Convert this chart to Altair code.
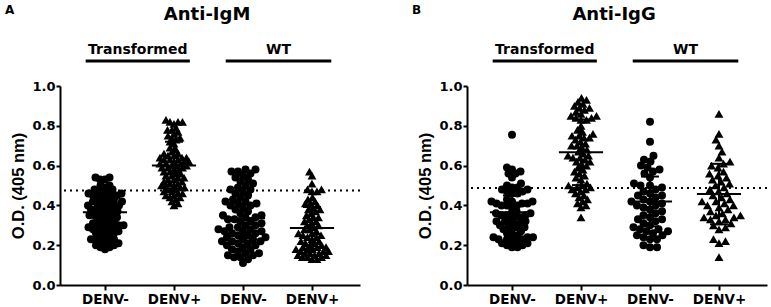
import altair as alt
import pandas as pd

FONT = "DejaVu Sans"
TITLE_FONT = "Liberation Sans"

CATEGORIES = ["DENV-", "DENV+", "DENV-", "DENV+"]
GROUP_LABELS = ["Transformed", "WT"]
GROUP_SPANS = [(-0.28, 1.23), (1.75, 3.28)]
PANEL_TITLES = ["Anti-IgM", "Anti-IgG"]
PANEL_LETTERS = ["A", "B"]
Y_TICKS = [0.0, 0.2, 0.4, 0.6, 0.8, 1.0]

# Panel A (Anti-IgM)
A_T_NEG = [0.54, 0.54, 0.53, 0.53, 0.50, 0.50, 0.49, 0.48, 0.48,
           0.47, 0.47, 0.46, 0.46, 0.46, 0.45, 0.45, 0.45,
           0.44, 0.44, 0.43, 0.43, 0.42, 0.42, 0.42, 0.41, 0.41, 0.40, 0.40, 0.40,
           0.39, 0.39, 0.38, 0.38, 0.38, 0.37, 0.37, 0.36, 0.36, 0.35, 0.35, 0.35,
           0.34, 0.34, 0.33, 0.33, 0.32, 0.32, 0.31, 0.31, 0.30, 0.30, 0.30, 0.30,
           0.29, 0.29, 0.28, 0.28, 0.28, 0.27, 0.27, 0.26, 0.26, 0.25, 0.25,
           0.24, 0.23, 0.23, 0.23, 0.22, 0.22, 0.21, 0.21, 0.20, 0.20, 0.19, 0.19, 0.18]
A_T_POS = [0.83, 0.82, 0.82, 0.82, 0.81, 0.79, 0.78, 0.78, 0.77,
           0.76, 0.75, 0.74, 0.74, 0.73, 0.72, 0.71,
           0.69, 0.68, 0.67, 0.66, 0.66, 0.65, 0.65, 0.64, 0.64, 0.64, 0.63, 0.63,
           0.63, 0.62, 0.62, 0.62, 0.61, 0.61, 0.61, 0.60, 0.60, 0.60, 0.59, 0.59,
           0.59, 0.58, 0.58, 0.57, 0.57, 0.56, 0.56, 0.55, 0.55, 0.54, 0.54, 0.53,
           0.53, 0.52, 0.52, 0.51, 0.51, 0.50, 0.50, 0.50, 0.49, 0.49, 0.48, 0.48,
           0.47, 0.47, 0.46, 0.46, 0.45, 0.45, 0.44, 0.44, 0.43, 0.42, 0.41, 0.40]
A_WT_NEG = [0.58, 0.58, 0.57, 0.57, 0.56, 0.55, 0.54, 0.53, 0.52, 0.51, 0.50,
            0.49, 0.48, 0.48, 0.47, 0.46, 0.45, 0.44, 0.43, 0.42, 0.42, 0.41,
            0.41, 0.40, 0.40, 0.39, 0.38, 0.37, 0.36, 0.35, 0.35, 0.34, 0.34,
            0.33, 0.33, 0.32, 0.32, 0.31, 0.30, 0.30, 0.29, 0.29, 0.28, 0.28,
            0.27, 0.27, 0.27, 0.26, 0.26, 0.25, 0.25, 0.24, 0.24, 0.23, 0.23,
            0.22, 0.22, 0.22, 0.21, 0.21, 0.20, 0.20, 0.19, 0.18, 0.18, 0.17,
            0.16, 0.16, 0.15, 0.15, 0.14, 0.14, 0.13, 0.11]
A_WT_POS = [0.57, 0.55, 0.51, 0.48, 0.48, 0.47, 0.47, 0.44, 0.43, 0.42, 0.41,
            0.41, 0.40, 0.39, 0.38, 0.38, 0.37, 0.36, 0.35, 0.34, 0.34, 0.33,
            0.32, 0.32, 0.31, 0.30, 0.30, 0.29, 0.28, 0.28, 0.27, 0.26, 0.26,
            0.25, 0.25, 0.24, 0.24, 0.23, 0.22, 0.22, 0.21, 0.21, 0.20, 0.20,
            0.19, 0.19, 0.19, 0.18, 0.18, 0.18, 0.17, 0.17, 0.17, 0.16, 0.16,
            0.16, 0.15, 0.15, 0.15, 0.14, 0.14, 0.14, 0.13, 0.13]
A_MEANS = [0.365, 0.60, 0.335, 0.287]
A_SDS = [0.085, 0.12, 0.12, 0.105]

# Panel B (Anti-IgG)
B_T_NEG = [0.755, 0.59, 0.58, 0.57, 0.56, 0.56, 0.54,
           0.51, 0.50, 0.49, 0.49, 0.48, 0.48, 0.47, 0.47, 0.46, 0.46,
           0.43, 0.42, 0.42, 0.42, 0.41, 0.41, 0.41, 0.40, 0.40, 0.40, 0.39,
           0.37, 0.36, 0.36, 0.36, 0.35, 0.35, 0.35, 0.34, 0.34,
           0.33, 0.32, 0.32, 0.32, 0.31, 0.31, 0.30, 0.30, 0.29, 0.29, 0.28, 0.28,
           0.27, 0.26, 0.25, 0.25, 0.24, 0.24, 0.24, 0.23, 0.23, 0.23, 0.22, 0.22,
           0.21, 0.21, 0.20, 0.20, 0.19, 0.19]
B_T_POS = [0.94, 0.93, 0.92, 0.91, 0.90, 0.89, 0.89, 0.88, 0.87, 0.86, 0.85,
           0.85, 0.84, 0.84, 0.83, 0.83, 0.80, 0.78, 0.77, 0.76, 0.75, 0.75,
           0.74, 0.74, 0.73, 0.72, 0.71, 0.70, 0.70, 0.69, 0.68, 0.67, 0.66,
           0.65, 0.65, 0.64, 0.64, 0.63, 0.62, 0.62, 0.61, 0.60, 0.59, 0.58,
           0.57, 0.56, 0.55, 0.54, 0.53, 0.51, 0.50, 0.50, 0.49, 0.49, 0.48,
           0.48, 0.47, 0.46, 0.45, 0.44, 0.43, 0.42, 0.41, 0.40, 0.39, 0.34]
B_WT_NEG = [0.82, 0.72, 0.65, 0.63, 0.62, 0.60, 0.59, 0.58, 0.57, 0.56, 0.54,
            0.51, 0.50, 0.50, 0.49, 0.48, 0.47, 0.46, 0.45, 0.45, 0.44, 0.43,
            0.42, 0.42, 0.41, 0.40, 0.40, 0.39, 0.38, 0.37, 0.36, 0.35, 0.34,
            0.33, 0.33, 0.32, 0.31, 0.30, 0.29, 0.28, 0.28, 0.27, 0.27, 0.26,
            0.25, 0.25, 0.24, 0.23, 0.23, 0.20, 0.19, 0.19]
B_WT_POS = [0.86, 0.76, 0.73, 0.70, 0.67, 0.64, 0.62, 0.61, 0.60, 0.59, 0.57,
            0.56, 0.55, 0.54, 0.53, 0.52, 0.51, 0.50, 0.49, 0.48, 0.47, 0.46,
            0.45, 0.44, 0.43, 0.42, 0.42, 0.41, 0.40, 0.40, 0.39, 0.38, 0.37,
            0.36, 0.35, 0.35, 0.34, 0.34, 0.33, 0.33, 0.32, 0.31, 0.30, 0.29,
            0.28, 0.23, 0.22, 0.21, 0.14]
B_MEANS = [0.365, 0.667, 0.42, 0.457]
B_SDS = [0.085, 0.165, 0.125, 0.152]

THRESHOLDS = [0.475, 0.487]
SHAPES = ["circle", "triangle-up", "circle", "triangle-up"]
SIZES = [64, 80, 64, 80]
# collision spacing (px) of the swarm layout per group
A_SPACING = [4.9, 4.4, 6.3, 4.7]
B_SPACING = [5.3, 5.3, 6.6, 6.6]

W, H = 300, 199
X_DOMAIN = [-0.652, 3.696]
STEP_PX = W / (X_DOMAIN[1] - X_DOMAIN[0])


def swarm_offsets(vals, d):
    """Simple beeswarm layout in pixel space; returns offsets in x-data units."""
    order = sorted(range(len(vals)), key=lambda i: vals[i])
    placed = []
    offs = [0.0] * len(vals)
    flip = 1
    for i in order:
        y = vals[i] * H
        found = None
        k = 0
        while found is None:
            cands = [0.0] if k == 0 else [flip * k * 0.5, -flip * k * 0.5]
            for x in cands:
                if all((x - px) ** 2 + (y - py) ** 2 >= d * d for px, py in placed):
                    found = x
                    break
            k += 1
        if found != 0:
            flip = -flip
        placed.append((found, y))
        offs[i] = found / STEP_PX
    return offs


XS = alt.Scale(domain=X_DOMAIN, nice=False, zero=False)
YS = alt.Scale(domain=[0, 1], nice=False)
LABEL_EXPR = "[" + ",".join("'%s'" % c for c in CATEGORIES) + "][datum.value]"
X_AXIS = alt.Axis(values=[0, 1, 2, 3], labelExpr=LABEL_EXPR, title=None)
Y_AXIS = alt.Axis(values=Y_TICKS, format=".1f", title="O.D. (405 nm)")


def qx(field):
    return alt.X(field, type="quantitative", scale=XS, axis=X_AXIS)


def qy(field):
    return alt.Y(field, type="quantitative", scale=YS, axis=Y_AXIS)


def make_panel(groups, spacing, means, sds, thr, title, letter):
    rows = []
    for g, vals in enumerate(groups):
        offs = swarm_offsets(vals, spacing[g])
        for v, o in zip(vals, offs):
            rows.append({"g": g, "x": g + o, "value": v,
                         "shape": SHAPES[g], "size": SIZES[g]})
    pts = pd.DataFrame(rows)
    summ = pd.DataFrame({
        "g": list(range(4)),
        "mean": means,
        "lo": [m - s for m, s in zip(means, sds)],
        "hi": [m + s for m, s in zip(means, sds)],
    })
    summ["ml"] = summ["g"] - 0.32
    summ["mr"] = summ["g"] + 0.32
    summ["cl"] = summ["g"] - 0.13
    summ["cr"] = summ["g"] + 0.13

    points = alt.Chart(pts).mark_point(filled=True, opacity=1, color="black",
                                       strokeWidth=0).encode(
        x=qx("x"),
        y=qy("value"),
        shape=alt.Shape("shape:N", scale=None),
        size=alt.Size("size:Q", scale=None),
    )

    base = alt.Chart(summ)
    mean_line = base.mark_rule(color="black", strokeWidth=2).encode(
        x=qx("ml"), x2="mr", y=qy("mean"))
    sd_line = base.mark_rule(color="black", strokeWidth=2).encode(
        x=qx("g"), y=qy("lo"), y2="hi")
    cap_hi = base.mark_rule(color="black", strokeWidth=2).encode(
        x=qx("cl"), x2="cr", y=qy("hi"))
    cap_lo = base.mark_rule(color="black", strokeWidth=2).encode(
        x=qx("cl"), x2="cr", y=qy("lo"))

    thr_df = pd.DataFrame({"thr": [thr]})
    thr_line = alt.Chart(thr_df).mark_rule(color="black", strokeWidth=2,
                                           strokeDash=[2, 4]).encode(y=qy("thr"))

    grp = pd.DataFrame({
        "label": GROUP_LABELS,
        "x1": [s[0] for s in GROUP_SPANS],
        "x2": [s[1] for s in GROUP_SPANS],
    })
    grp["xc"] = (grp["x1"] + grp["x2"]) / 2
    gbars = alt.Chart(grp).mark_rule(color="black", strokeWidth=3).encode(
        x=qx("x1"), x2="x2", y=alt.value(-25))
    gtext = alt.Chart(grp).mark_text(font=FONT, fontSize=14, fontWeight="bold",
                                     color="black", baseline="middle").encode(
        x=qx("xc"), y=alt.value(-36), text="label:N")

    tdf = pd.DataFrame({"title": [title], "xc": [1.48], "letter": [letter]})
    ttext = alt.Chart(tdf).mark_text(font=FONT, fontSize=18, fontWeight="bold",
                                     color="black", baseline="middle").encode(
        x=qx("xc"), y=alt.value(-71), text="title:N")
    ltext = alt.Chart(tdf).mark_text(font=FONT, fontSize=12, fontWeight="bold",
                                     color="black", baseline="middle",
                                     align="left").encode(
        x=alt.value(-55), y=alt.value(-76), text="letter:N")

    return alt.layer(points, thr_line, mean_line, sd_line, cap_hi, cap_lo,
                     gbars, gtext, ttext, ltext).properties(width=W, height=H)


panel_a = make_panel([A_T_NEG, A_T_POS, A_WT_NEG, A_WT_POS], A_SPACING, A_MEANS,
                     A_SDS, THRESHOLDS[0], PANEL_TITLES[0], PANEL_LETTERS[0])
panel_b = make_panel([B_T_NEG, B_T_POS, B_WT_NEG, B_WT_POS], B_SPACING, B_MEANS,
                     B_SDS, THRESHOLDS[1], PANEL_TITLES[1], PANEL_LETTERS[1])

chart = alt.hconcat(panel_a, panel_b, spacing=107, bounds="flush").properties(
    padding={"left": 5, "top": 4, "right": 3, "bottom": 0},
    background="white",
).configure_view(stroke=None).configure_axis(
    grid=False, domainColor="black", domainWidth=2,
    tickColor="black", tickWidth=2,
    labelFont=FONT, labelFontWeight="bold", labelColor="black",
    labelOverlap=False, labelFlush=False,
    titleFont=TITLE_FONT, titleFontWeight="bold", titleColor="black",
).configure_axisX(
    tickSize=5, labelFontSize=13.5, labelPadding=2,
).configure_axisY(
    tickSize=4, labelFontSize=13, labelPadding=1,
    titleFontSize=16.5, titlePadding=5,
)

chart.save("out.html", embed_options={"renderer": "svg", "actions": False})
